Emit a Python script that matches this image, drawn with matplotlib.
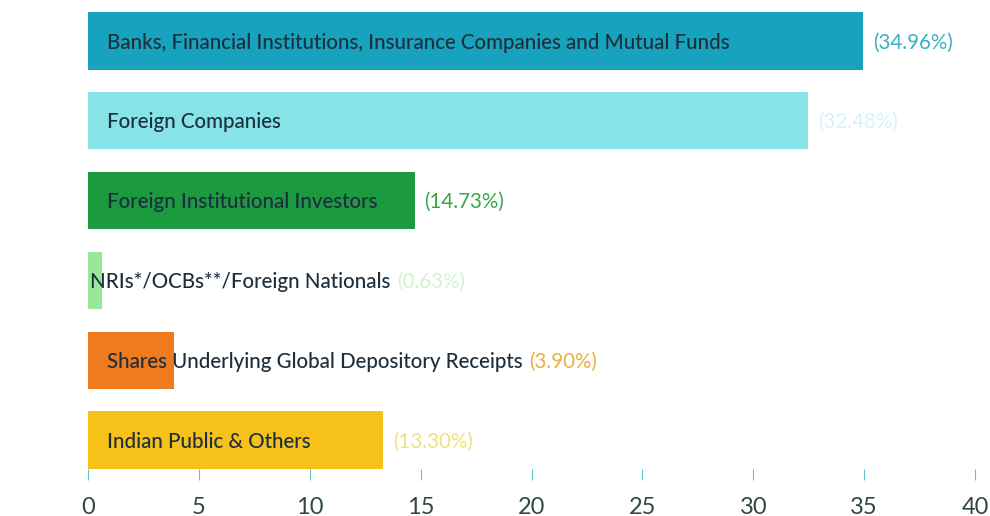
import matplotlib.pyplot as plt

# Shareholding pattern (%)
categories = ["Banks, Financial Institutions, Insurance Companies and Mutual Funds",
              "Foreign Companies",
              "Foreign Institutional Investors",
              "NRIs*/OCBs**/Foreign Nationals",
              "Shares Underlying Global Depository Receipts",
              "Indian Public & Others"]
values = [34.96, 32.48, 14.73, 0.63, 3.90, 13.30]
value_labels = ["(34.96%)", "(32.48%)", "(14.73%)", "(0.63%)", "(3.90%)", "(13.30%)"]
xticks = [0, 5, 10, 15, 20, 25, 30, 35, 40]

bar_colors = ["#17a3bd", "#86e3e8", "#1b9a3f", "#98e89a", "#f07a1e", "#f6c21a"]
pct_colors = ["#3ab0c6", "#d6f4f6", "#36a84a", "#d2f3cf", "#e8b040", "#eee37a"]
label_x = [0.85, 0.85, 0.85, 0.1, 0.85, 0.85]

plt.rcParams['font.family'] = ['Lato', 'DejaVu Sans']

fig = plt.figure(figsize=(9.9, 5.16), dpi=100)
ax = fig.add_axes([88 / 990, 1 - 480 / 516, (975 - 88) / 990, 479 / 516])

pos = list(range(len(values)))
ax.barh(pos, values, height=0.72, color=bar_colors, zorder=2)

fig.canvas.draw()
rend = fig.canvas.get_renderer()
for i, (v, name, pl) in enumerate(zip(values, categories, value_labels)):
    t = ax.text(label_x[i], i + 0.02, name, va="center", ha="left", fontsize=14.8,
                fontweight="medium", color="#1d2e3c", zorder=3)
    # percentage goes after the bar, or after the name if the name sticks out
    text_end = ax.transData.inverted().transform(
        (t.get_window_extent(rend).x1, 0))[0]
    if text_end > v:
        ax.annotate(pl, xy=(1, 0.5), xycoords=t, xytext=(5, 0),
                    textcoords="offset points", va="center", ha="left",
                    fontsize=14.8, color=pct_colors[i], zorder=3)
    else:
        ax.text(v + 0.45, i + 0.02, pl, va="center", ha="left", fontsize=14.8,
                color=pct_colors[i], zorder=3)

ax.set_xlim(0, 40)
ax.set_ylim(5.5, -0.5)
ax.set_xticks(xticks)
ax.set_yticks([])
ax.tick_params(axis="x", direction="in", length=8, width=0.8, color="#5fc3cf",
               labelsize=17, labelcolor="#2e4a3c", pad=12)
for s in ax.spines.values():
    s.set_visible(False)

fig.savefig("out.png", dpi=100)
